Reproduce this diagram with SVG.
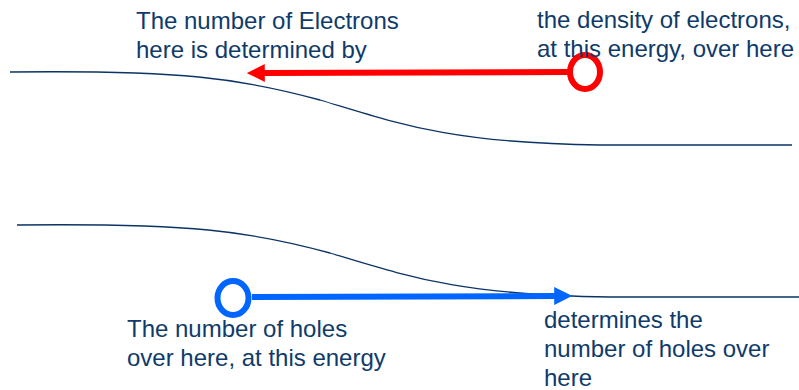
<svg xmlns="http://www.w3.org/2000/svg" width="799" height="390" viewBox="0 0 799 390">
<style>
.t{font-family:"Liberation Sans",Arial,sans-serif;font-size:24px;fill:#0F3B6B}
.band{fill:none;stroke:#0B3366;stroke-width:1.3}
</style>
<defs>
<marker id="ar" viewBox="0 0 10 10" refX="1" refY="5" markerWidth="3" markerHeight="3" orient="auto" markerUnits="strokeWidth"><path d="M0,0 L10,5 L0,10 z" fill="#FF0000"/></marker>
<marker id="ab" viewBox="0 0 10 10" refX="1" refY="5" markerWidth="3" markerHeight="3" orient="auto" markerUnits="strokeWidth"><path d="M0,0 L10,5 L0,10 z" fill="#0066FF"/></marker>
</defs>
<rect width="799" height="390" fill="#fff"/>
<g id="bands">
<path class="band" d="M10,72 C180,70 240,78 320,100 C400,124 450,143 600,145 L792,145"/>
<path class="band" d="M17,225 C190,223 250,231 330,253 C410,277 460,295 610,297 L799,297"/>
</g>
<g id="connectors">
<line x1="568" y1="72" x2="263" y2="73" stroke="#FF0000" stroke-width="6" marker-end="url(#ar)"/>
<line x1="252" y1="297" x2="556" y2="296" stroke="#0066FF" stroke-width="6" marker-end="url(#ab)"/>
</g>
<g id="node-red-circle"><ellipse cx="585" cy="72" rx="15" ry="17" fill="none" stroke="#FF0000" stroke-width="6"/></g>
<g id="node-blue-circle"><ellipse cx="233" cy="298" rx="15.5" ry="17" fill="none" stroke="#0066FF" stroke-width="6"/></g>
<g id="label-electrons"><text class="t" x="136" y="29">The number of Electrons</text><text class="t" x="136" y="58">here is determined by</text></g>
<g id="label-density"><text class="t" x="537" y="28">the density of electrons,</text><text class="t" x="537" y="57">at this energy, over here</text></g>
<g id="label-holes"><text class="t" x="127" y="337">The number of holes</text><text class="t" x="127" y="366">over here, at this energy</text></g>
<g id="label-determines"><text class="t" x="544" y="328">determines the</text><text class="t" x="544" y="357">number of holes over</text><text class="t" x="544" y="386">here</text></g>
</svg>
